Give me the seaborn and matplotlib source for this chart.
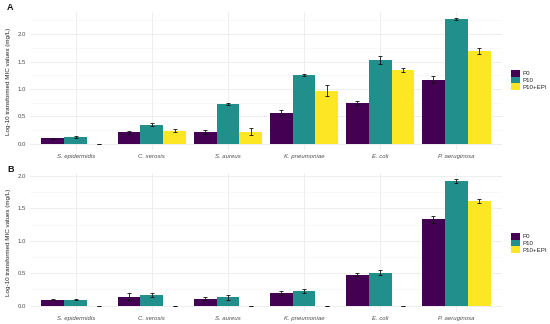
import numpy as np
import pandas as pd
import matplotlib
matplotlib.use("Agg")
import matplotlib.pyplot as plt
import seaborn as sns
from matplotlib.patches import Patch
from matplotlib.ticker import MultipleLocator

species = ["S. epidermidis", "C. xerosis", "S. aureus", "K. pneumoniae", "E. coli", "P. aeruginosa"]
groups = ["P0", "P10", "P10+EPI"]
colors = ["#440154", "#21908C", "#FDE725"]

# Panel A
a_p0 = [0.10, 0.21, 0.21, 0.57, 0.74, 1.17]
a_p10 = [0.12, 0.35, 0.72, 1.26, 1.53, 2.27]
a_epi = [0.00, 0.24, 0.22, 0.97, 1.35, 1.69]
a_p0_err = [0.01, 0.03, 0.04, 0.04, 0.04, 0.07]
a_p10_err = [0.02, 0.03, 0.02, 0.02, 0.07, 0.02]
a_epi_err = [0.00, 0.03, 0.06, 0.10, 0.04, 0.05]

# Panel B
b_p0 = [0.09, 0.14, 0.11, 0.20, 0.48, 1.33]
b_p10 = [0.09, 0.16, 0.13, 0.23, 0.51, 1.92]
b_epi = [0.00, 0.00, 0.00, 0.00, 0.00, 1.61]
b_p0_err = [0.01, 0.05, 0.03, 0.03, 0.02, 0.05]
b_p10_err = [0.01, 0.03, 0.04, 0.03, 0.04, 0.03]
b_epi_err = [0.00, 0.00, 0.00, 0.00, 0.00, 0.03]

ylabel = "Log-10 transformed MIC values (mg/L)"

sns.set_theme(style="white")
plt.rcParams["font.family"] = ["Liberation Sans", "DejaVu Sans"]

fig = plt.figure(figsize=(5.5, 3.24), dpi=100)

def make_df(p0, p10, epi, e0, e10, eepi):
    rows = []
    for g, vals, errs in zip(groups, [p0, p10, epi], [e0, e10, eepi]):
        for s, v, e in zip(species, vals, errs):
            rows.append({"species": s, "group": g, "value": v, "err": e})
    return pd.DataFrame(rows)

def draw(ax, df, ylim, label, label_y, legend_y):
    sns.barplot(data=df, x="species", y="value", hue="group", order=species,
                hue_order=groups, palette=colors, saturation=1, width=0.9,
                errorbar=None, linewidth=0, ax=ax, legend=False, zorder=2)
    for cont, g in zip(ax.containers, groups):
        sub = df[df.group == g].set_index("species").loc[species]
        xs = [p.get_x() + p.get_width() / 2 for p in cont.patches]
        ax.errorbar(xs, sub["value"].values, yerr=sub["err"].values, fmt="none",
                    ecolor="#111111", elinewidth=0.6, capsize=1.7, capthick=0.6, zorder=3)
    ax.set_xlim(-0.6, 5.6)
    ax.set_ylim(*ylim)
    ax.yaxis.set_major_locator(MultipleLocator(0.5))
    ax.yaxis.set_minor_locator(MultipleLocator(0.25))
    ax.grid(True, which="major", color="#EBEBEB", lw=0.6, zorder=0)
    ax.grid(True, which="minor", axis="y", color="#F4F4F4", lw=0.4, zorder=0)
    ax.set_axisbelow(True)
    for sp in ax.spines.values():
        sp.set_visible(False)
    ax.tick_params(axis="both", which="both", length=0, labelsize=4.3,
                   labelcolor="#4D4D4D", pad=3)
    ax.set_yticks([0, 0.5, 1.0, 1.5, 2.0])
    ax.set_yticklabels(["0.0", "0.5", "1.0", "1.5", "2.0"])
    for t in ax.get_xticklabels():
        t.set_fontstyle("italic")
    ax.set_xlabel("")
    ax.set_ylabel(ylabel, fontsize=4.5, color="#222222", labelpad=4.5)
    handles = [Patch(facecolor=c, edgecolor="none", label=g) for c, g in zip(colors, groups)]
    fig.legend(handles=handles, loc="center left", bbox_to_anchor=(511 / 550, legend_y),
               frameon=False, fontsize=4.4, handlelength=1.5, handleheight=1.35,
               labelspacing=0.0, handletextpad=0.35, borderpad=0, borderaxespad=0,
               labelcolor="#222222")
    fig.text(7 / 550, label_y, label, fontsize=6.5, fontweight="bold",
             color="#111111", ha="left", va="center")

axA = fig.add_axes([30 / 550, 1 - 150 / 324, 472 / 550, 138 / 324])
draw(axA, make_df(a_p0, a_p10, a_epi, a_p0_err, a_p10_err, a_epi_err),
     (-0.1145, 2.4045), "A", 1 - 8 / 324, 1 - 80 / 324)

axB = fig.add_axes([30 / 550, 1 - 312 / 324, 472 / 550, 139 / 324])
draw(axB, make_df(b_p0, b_p10, b_epi, b_p0_err, b_p10_err, b_epi_err),
     (-0.0975, 2.0475), "B", 1 - 170 / 324, 1 - 243 / 324)

fig.savefig("out.png", dpi=100)
